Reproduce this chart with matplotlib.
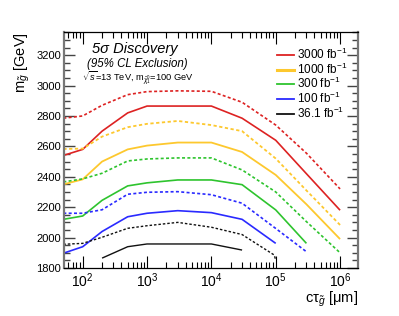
import matplotlib
matplotlib.use('Agg')
import matplotlib.pyplot as plt
from matplotlib.ticker import LogLocator, MultipleLocator, FixedLocator, NullFormatter, FixedFormatter
from matplotlib.lines import Line2D

plt.rcParams['font.family'] = ['Liberation Sans', 'DejaVu Sans']
plt.rcParams['mathtext.fontset'] = 'custom'
plt.rcParams['mathtext.rm'] = 'Liberation Sans'
plt.rcParams['mathtext.it'] = 'Liberation Sans:italic'
plt.rcParams['mathtext.bf'] = 'Liberation Sans:bold'
plt.rcParams['mathtext.sf'] = 'Liberation Sans'

# ---- data ----
x_full = [50, 100, 200, 500, 1e3, 3e3, 1e4, 3e4, 1e5, 3e5, 1e6]
x_3e5 = [50, 100, 200, 500, 1e3, 3e3, 1e4, 3e4, 1e5, 3e5]
x_1e5 = [50, 100, 200, 500, 1e3, 3e3, 1e4, 3e4, 1e5]
x_black_solid = [200, 500, 1e3, 3e3, 1e4, 3e4]
x_black_dotted = [50, 100, 200, 500, 1e3, 3e3, 1e4, 3e4, 9.5e4, 1e5]

red_disc = [2540, 2580, 2700, 2820, 2865, 2865, 2865, 2785, 2640, 2420, 2180]
red_excl = [2785, 2800, 2870, 2940, 2960, 2965, 2962, 2890, 2740, 2555, 2320]
yel_disc = [2350, 2383, 2500, 2580, 2605, 2625, 2625, 2563, 2412, 2219, 1990]
yel_excl = [2583, 2585, 2664, 2726, 2748, 2767, 2740, 2700, 2520, 2310, 2083]
grn_disc = [2120, 2142, 2245, 2340, 2360, 2379, 2379, 2348, 2182, 1962]
grn_excl = [2366, 2386, 2423, 2504, 2517, 2524, 2524, 2445, 2300, 2105, 1900]
blu_disc = [1897, 1940, 2040, 2137, 2160, 2177, 2164, 2120, 1962]
blu_excl = [2160, 2160, 2183, 2285, 2298, 2302, 2282, 2226, 2060, 1907]
blk_disc = [1865, 1940, 1958, 1958, 1958, 1918]
blk_excl = [1956, 1962, 2002, 2061, 2078, 2100, 2068, 2020, 1885, 1850]

labels = ['3000 fb$^{-1}$', '1000 fb$^{-1}$', '300 fb$^{-1}$', '100 fb$^{-1}$', '36.1 fb$^{-1}$']
colors = ['#dd2222', '#fdc82e', '#2ec42e', '#2a2aff', '#111111']
y_ticks = [1800, 2000, 2200, 2400, 2600, 2800, 3000, 3200]
x_ticks = [1e2, 1e3, 1e4, 1e5, 1e6]
x_ticklabels = ['$10^{2}$', '$10^{3}$', '$10^{4}$', '$10^{5}$', '$10^{6}$']

W, H = 399, 316
fig = plt.figure(figsize=(W/100, H/100), dpi=100)
ax = fig.add_axes([64/W, 48/H, 294/W, 236/H])

dot = (0, (1.8, 1.4))
series = [
    (x_full, red_disc, x_full, red_excl),
    (x_full, yel_disc, x_full, yel_excl),
    (x_3e5, grn_disc, x_full, grn_excl),
    (x_1e5, blu_disc, x_3e5, blu_excl),
    (x_black_solid, blk_disc, x_black_dotted, blk_excl),
]
lws = [1.2, 1.3, 1.2, 1.2, 1.0]
for (xd, yd, xe, ye), c, lw in zip(series, colors, lws):
    ax.plot(xd, yd, color=c, lw=lw, solid_capstyle='butt')
    ax.plot(xe, ye, color=c, lw=lw, linestyle=dot)

ax.set_xscale('log')
ax.set_xlim(51.2, 1.9e6)
ax.set_ylim(1800, 3352)

ax.xaxis.set_major_locator(FixedLocator(x_ticks))
ax.xaxis.set_major_formatter(FixedFormatter(x_ticklabels))
ax.xaxis.set_minor_locator(LogLocator(base=10, subs=range(2, 10), numticks=20))
ax.xaxis.set_minor_formatter(NullFormatter())
ax.yaxis.set_major_locator(FixedLocator(y_ticks))
ax.yaxis.set_minor_locator(MultipleLocator(50))

ax.tick_params(axis='both', which='both', direction='in', top=True, right=True)
ax.tick_params(axis='x', which='major', length=8.5, width=0.8, labelsize=10, pad=2.5)
ax.tick_params(axis='x', which='minor', length=4.5, width=0.8)
ax.tick_params(axis='y', which='major', length=8, width=1.0, labelsize=8, pad=2, color='#444')
ax.tick_params(axis='y', which='minor', length=4.5, width=1.0, color='#444')

for s in ['left', 'right']:
    ax.spines[s].set_color('#777')
    ax.spines[s].set_linewidth(1.6)
for s in ['top', 'bottom']:
    ax.spines[s].set_color('black')
    ax.spines[s].set_linewidth(0.9)

# axis titles
fig.text(22/W, 1 - 32/H, r'm$_{\tilde{g}}$ [GeV]', rotation=90, ha='center', va='top', fontsize=10.5)
fig.text(358/W, 1 - 303/H, r'cτ$_{\tilde{g}}$ [μm]', ha='right', va='baseline', fontsize=10.5)

# annotations
fig.text(135/W, 1 - 49/H, '5σ Discovery', style='italic', ha='center', va='center', fontsize=10.5)
fig.text(137/W, 1 - 64/H, '(95% CL Exclusion)', style='italic', ha='center', va='center', fontsize=8.3)
fig.text(82/W, 1 - 78/H, r'$\sqrt{s}$=13 TeV, m$_{\tilde{\chi}^{0}_{1}}$=100 GeV', ha='left', va='center', fontsize=6.7)

# legend
handles = [Line2D([], [], color=c, lw=(2.2 if i == 1 else 1.3)) for i, c in enumerate(colors)]
ax.legend(handles, labels, loc='upper left', bbox_to_anchor=(277/W, 1 - 47/H),
          bbox_transform=fig.transFigure, frameon=False, fontsize=8.5,
          handlelength=1.4, handletextpad=0.3, labelspacing=-0.05, borderpad=0, borderaxespad=0)

fig.savefig('out.png', dpi=100)
